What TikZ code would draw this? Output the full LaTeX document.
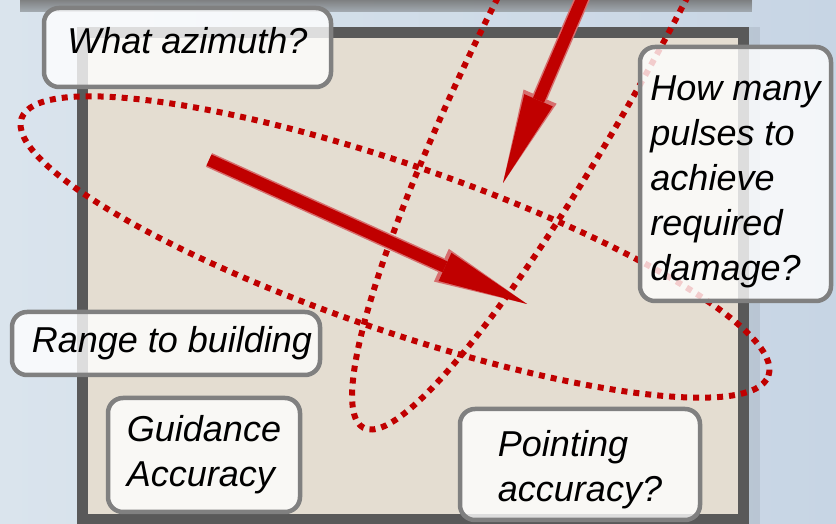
\documentclass[tikz,border=0pt]{standalone}
\usepackage{fontspec}
\setmainfont{Liberation Sans}
\usetikzlibrary{arrows.meta,shapes.geometric}
\definecolor{skyleft}{RGB}{218,228,237}
\definecolor{skyright}{RGB}{199,213,228}
\definecolor{sand}{RGB}{228,221,209}
\definecolor{frame}{RGB}{89,89,89}
\definecolor{boxedge}{RGB}{128,128,128}
\definecolor{hitred}{RGB}{192,0,0}
\definecolor{hitedge}{RGB}{214,110,110}
\newcommand{\askfont}{\fontsize{36}{45}\selectfont\itshape}
\newcommand{\lowstrut}[1]{\rule[-#1]{0pt}{#1}}
\newcommand{\highstrut}[1]{\rule{0pt}{#1}}

\begin{document}
\begin{tikzpicture}[
    x=1pt, y=1pt,
    ask/.style={draw=boxedge, line width=4.5pt, rounded corners=15pt, fill=white, fill opacity=0.8, text opacity=1, align=left, inner sep=0pt, font=\askfont},
    hitring/.style={ellipse, draw=hitred, line width=6pt, dash pattern=on 6pt off 6pt, inner sep=0pt},
    shot/.style={draw=hitred, line width=12pt, -{Triangle[length=90pt, width=31pt, line width=0pt]}},
    shotedge/.style={draw=hitedge, line width=15pt, -{Triangle[length=94pt, width=36pt, line width=0pt]}}
  ]
  \useasboundingbox (0,0) rectangle (836,524);
  \clip (0,0) rectangle (836,524);
  % backdrop, target frame, shots, error rings, questions
  \fill[left color=skyleft, right color=skyright] (0,0) rectangle (836,524);
  \fill[top color=frame!60, bottom color=skyleft, opacity=0.6] (20,512) rectangle (752,524);
  \fill[black, opacity=0.08] (749,0) rectangle (760,497);
  \draw[frame, line width=11pt, fill=sand] (82.5,4.5) rectangle (743.5,491.5);

  \coordinate (laserTail) at (585,532);
  \coordinate (laserTip) at (503,341);
  \coordinate (shotTail) at (209,364);
  \coordinate (shotTip) at (527,220);
  \draw[shotedge] (laserTail) -- (laserTip);
  \draw[shot] (laserTail) -- (laserTip);
  \draw[shotedge] (shotTail) -- (shotTip);
  \draw[shot] (shotTail) -- (shotTip);

  \node[hitring, minimum width=790pt, minimum height=166pt, rotate=-19] (rangeRing) at (395,277) {};
  \node[hitring, minimum width=1012pt, minimum height=168pt, rotate=62] (azimuthRing) at (601,543) {};

  \node[ask, minimum width=287pt, minimum height=79pt] (azimuth) at (187.5,476.5) {What azimuth?\lowstrut{15pt}};
  \node[ask, minimum width=191pt, minimum height=254pt] (pulses) at (735.5,350) {\highstrut{40pt}How many\\pulses to\\achieve\\required\\damage?};
  \node[ask, minimum width=308pt, minimum height=63pt] (range) at (166,180.5) {\hspace*{12pt}Range to building};
  \node[ask, minimum width=192pt, minimum height=114pt] (guidance) at (204,69) {Guidance\\Accuracy};
  \node[ask, minimum width=240pt, minimum height=111pt] (pointing) at (580,59.5) {\highstrut{37pt}Pointing\\accuracy?};
\end{tikzpicture}
\end{document}
